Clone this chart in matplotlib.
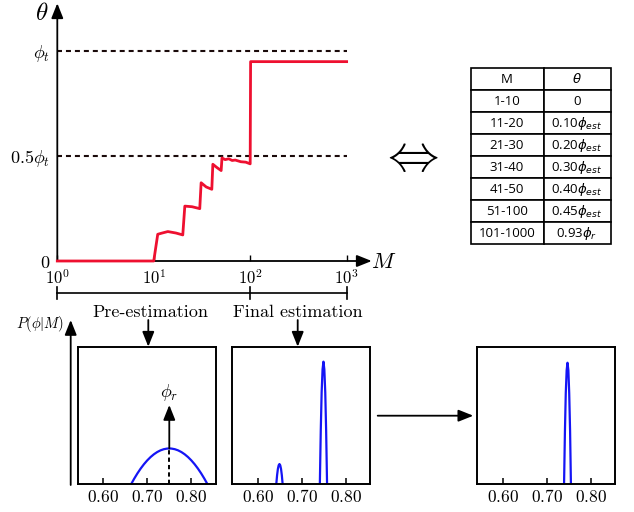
import matplotlib.pyplot as plt
from matplotlib.ticker import NullLocator

plt.rcParams["mathtext.fontset"] = "cm"
plt.rcParams["axes.unicode_minus"] = False

# theta(M) schedule (top panel)
M = [1, 10, 11, 12, 14, 17, 20, 21, 25, 30, 31, 35, 40, 41, 45, 50,
     51, 55, 60, 65, 70, 80, 90, 100, 101, 1000]
theta = [0, 0, 0.127, 0.132, 0.140, 0.133, 0.124, 0.261, 0.258, 0.249,
         0.372, 0.352, 0.341, 0.460, 0.445, 0.430, 0.490, 0.482, 0.486,
         0.478, 0.480, 0.472, 0.470, 0.462, 0.948, 0.948]
ref_levels = [0.5, 1.0]
stage_bounds = [1, 100, 1000]
x_ticks = [1, 10, 100, 1000]
x_labels = [r"$10^0$", r"$10^1$", r"$10^2$", r"$10^3$"]
y_ticks = [0, 0.5, 1.0]
y_labels = [r"$0$", r"$0.5\phi_t$", r"$\phi_t$"]

# posterior curves (bottom panels)
pre_x = [0.6635, 0.670, 0.6775, 0.685, 0.6925, 0.700, 0.7075, 0.715, 0.7225,
         0.730, 0.7375, 0.745, 0.750, 0.755, 0.7625, 0.770, 0.7775, 0.785,
         0.7925, 0.800, 0.8075, 0.815, 0.8225, 0.830, 0.8365]
pre_y = [0.0, 0.0377, 0.0774, 0.1132, 0.1451, 0.1731, 0.1972, 0.2174, 0.2337,
         0.2461, 0.2546, 0.2591, 0.26, 0.2591, 0.2546, 0.2461, 0.2337, 0.2174,
         0.1972, 0.1731, 0.1451, 0.1132, 0.0774, 0.0377, 0.0]
fin_small_x = [0.6418, 0.6436, 0.6454, 0.6472, 0.649, 0.6508, 0.6526, 0.6544, 0.6562]
fin_small_y = [0, 0.064, 0.110, 0.137, 0.146, 0.137, 0.110, 0.064, 0]
fin_big_x = [0.7408, 0.7429, 0.7449, 0.7470, 0.749, 0.7510, 0.7531, 0.7551, 0.7572]
fin_big_y = [0, 0.392, 0.671, 0.839, 0.895, 0.839, 0.671, 0.392, 0]
last_x = [0.7397, 0.7417, 0.7436, 0.7456, 0.7475, 0.7495, 0.7514, 0.7534, 0.7553]
last_y = [0, 0.388, 0.665, 0.832, 0.887, 0.832, 0.665, 0.388, 0]
phi_r = 0.75
p_ticks = [0.6, 0.7, 0.8]
p_labels = [r"$0.60$", r"$0.70$", r"$0.80$"]

# table
m_ranges = ["1-10", "11-20", "21-30", "31-40", "41-50", "51-100", "101-1000"]
theta_rules = ["0", r"0.10$\phi_{est}$", r"0.20$\phi_{est}$", r"0.30$\phi_{est}$",
               r"0.40$\phi_{est}$", r"0.45$\phi_{est}$", r"0.93$\phi_r$"]

W, H = 634, 512
RED = "#ee1030"
BLUE = "#1515f5"


def box(x0, y0, x1, y1):
    return [x0 / W, 1 - y1 / H, (x1 - x0) / W, (y1 - y0) / H]


def arrow(ax, x0, y0, x1, y1, lw=1.3):
    # coordinates in image pixels (y down)
    ax.annotate("", xy=(x1, H - y1), xytext=(x0, H - y0),
                xycoords="figure pixels", textcoords="figure pixels",
                arrowprops=dict(arrowstyle="-|>,head_length=0.75,head_width=0.3",
                                mutation_scale=12, color="k", lw=lw,
                                shrinkA=0, shrinkB=0))


def ftext(x, y, s, **kw):
    fig.text(x / W, 1 - y / H, s, ha="center", va="center", **kw)


fig = plt.figure(figsize=(W / 100, H / 100), dpi=100)

# ---- top: theta vs M
ax = fig.add_axes(box(57.3, 3.3, 371.7, 261))
ax.set_xscale("log")
ax.set_xlim(1, 10 ** 3.26)
ax.set_ylim(0, 1.2254)
for s in ax.spines.values():
    s.set_visible(False)
ax.set_xticks(x_ticks, labels=x_labels)
ax.xaxis.set_minor_locator(NullLocator())
ax.tick_params(axis="x", direction="in", length=4, width=1, pad=6, labelsize=12)
ax.set_yticks(y_ticks, labels=y_labels)
ax.tick_params(axis="y", length=0, pad=5, labelsize=13)
ax.hlines(ref_levels, 1, 1000, colors="#1a0a0a", linestyles=(0, (2.4, 1.9)), lw=1.5)
ax.plot(M, theta, color=RED, lw=2, zorder=5, clip_on=False)

akw = dict(arrowstyle="-|>,head_length=0.75,head_width=0.3", mutation_scale=12,
           color="k", lw=1.3, shrinkA=0, shrinkB=0)
ax.annotate("", xy=(1, 0), xytext=(0, 0), xycoords="axes fraction", arrowprops=akw)
ax.annotate("", xy=(0, 1), xytext=(0, 0), xycoords="axes fraction", arrowprops=akw)

# stage bar
yt = (261 - 293.3) / 210.3
dy = 6 / 210.3
ax.plot([stage_bounds[0], stage_bounds[-1]], [yt, yt], color="k", lw=1.2, clip_on=False)
for b in stage_bounds:
    ax.plot([b, b], [yt - dy, yt + dy], color="k", lw=1.2, clip_on=False)

ftext(41.5, 13, r"$\theta$", fontsize=18)
ftext(384, 262, r"$M$", fontsize=16)
ftext(408, 156.7, r"$\Leftrightarrow$", fontsize=37)

ftext(150.7, 312.3, "Pre-estimation", fontfamily="cmr10", fontsize=13)
ftext(298, 312.3, "Final estimation", fontfamily="cmr10", fontsize=13)
arrow(ax, 148.3, 320, 148.3, 346.7)
arrow(ax, 297.7, 320, 297.7, 346.7)
ftext(40, 324.3, r"$P(\phi|M)$", fontsize=10.5)
arrow(ax, 70.7, 485, 70.7, 320)
arrow(ax, 377.7, 415.7, 473.3, 415.7)

# ---- bottom: posteriors
panels = []
for x0 in (77.7, 232.3, 477):
    a = fig.add_axes(box(x0, 347.3, x0 + 138, 484))
    a.set_xlim(0.5418, 0.8555)
    a.set_ylim(0, 1)
    a.set_xticks(p_ticks, labels=p_labels)
    a.set_yticks([])
    a.tick_params(axis="x", direction="in", length=4, width=1.1, pad=3, labelsize=12.5)
    for s in a.spines.values():
        s.set_linewidth(1.4)
    panels.append(a)

p1, p2, p3 = panels
p1.plot(pre_x, pre_y, color=BLUE, lw=1.6)
p1.vlines(phi_r, 0, max(pre_y), colors="k", linestyles=(0, (2.2, 1.6)), lw=1.4)
p1.annotate("", xy=(phi_r, 0.578), xytext=(phi_r, max(pre_y)), arrowprops=akw)
p1.text(phi_r, 0.666, r"$\phi_r$", ha="center", va="center", fontsize=13)
p2.plot(fin_small_x, fin_small_y, color=BLUE, lw=1.6)
p2.plot(fin_big_x, fin_big_y, color=BLUE, lw=1.6)
p3.plot(last_x, last_y, color=BLUE, lw=1.6)

# ---- table
ax_t = fig.add_axes(box(470.5, 68.3, 610.5, 244.3))
ax_t.axis("off")
tbl = ax_t.table(cellText=[list(r) for r in zip(m_ranges, theta_rules)],
                 colLabels=["M", r"$\theta$"], bbox=[0, 0, 1, 1],
                 cellLoc="center", colWidths=[73 / 140, 67 / 140])
tbl.auto_set_font_size(False)
tbl.set_fontsize(9.5)
for cell in tbl.get_celld().values():
    cell.set_linewidth(1.2)
    t = cell.get_text()
    t.set_fontfamily("Open Sans")
    t.set_math_fontfamily("dejavusans")

fig.savefig("out.png", dpi=100)
